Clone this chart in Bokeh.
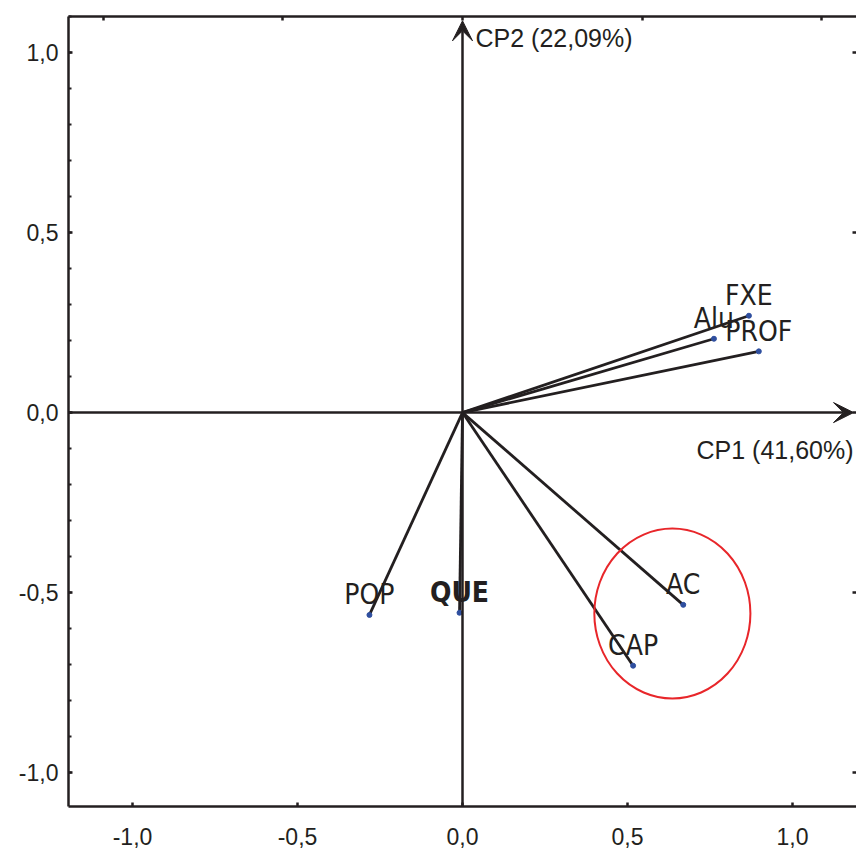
from bokeh.plotting import figure
from bokeh.models import (Range1d, LinearAxis, FixedTicker, Arrow, VeeHead, Label,
                          ColumnDataSource)
from bokeh.core.properties import value
from bokeh.embed import file_html
from bokeh.resources import INLINE

# ---- data ----
variables = ["FXE", "Alu", "PROF", "AC", "CAP", "POP", "QUE"]
cp1_loadings = [0.868, 0.762, 0.898, 0.669, 0.517, -0.282, -0.009]
cp2_loadings = [0.269, 0.205, 0.170, -0.534, -0.703, -0.562, -0.556]
label_styles = ["normal", "normal", "normal", "normal", "normal", "normal", "bold"]

axis_ticks = [-1.0, -0.5, 0.0, 0.5, 1.0]
axis_tick_labels = ["-1,0", "-0,5", "0,0", "0,5", "1,0"]
y_minor_ticks = [round(-1.0 + 0.1 * i, 1) for i in range(22)]

cp1_title = "CP1 (41,60%)"
cp2_title = "CP2 (22,09%)"

# highlighted group (red ellipse)
ellipse_center = (0.636, -0.558)
ellipse_size = (0.473, 0.472)

x_min, x_max = -1.194, 1.194
y_min, y_max = -1.094, 1.100

INK = "#231f20"

p = figure(width=856, height=850,
           x_range=Range1d(x_min, x_max), y_range=Range1d(y_min, y_max),
           output_backend="svg", toolbar_location=None,
           x_axis_location=None, y_axis_location=None,
           min_border_left=68, min_border_right=0,
           min_border_top=16, min_border_bottom=44)
p.outline_line_color = None
p.background_fill_color = "white"
p.border_fill_color = "white"
p.grid.visible = False
p.extra_x_ranges = {"top": Range1d(-1.096, 1.096)}

overrides = {t: l for t, l in zip(axis_ticks, axis_tick_labels)}


def style_axis(ax, labels=True):
    ax.axis_line_width = 2.5
    ax.axis_line_color = INK
    ax.major_tick_in = 4
    ax.major_tick_out = 0
    ax.major_tick_line_width = 2.5
    ax.major_tick_line_color = INK
    ax.minor_tick_in = 3
    ax.minor_tick_out = 0
    ax.minor_tick_line_width = 2
    ax.minor_tick_line_color = INK
    if labels:
        ax.major_label_overrides = overrides
        ax.major_label_text_font = "Liberation Sans"
        ax.major_label_text_font_size = "23px"
        ax.major_label_text_color = INK
    else:
        ax.major_label_text_color = None
        ax.major_label_text_font_size = "1px"
        ax.major_label_standoff = 0


left = LinearAxis(ticker=FixedTicker(ticks=axis_ticks, minor_ticks=y_minor_ticks))
style_axis(left)
left.major_label_standoff = 10
p.add_layout(left, "left")

bottom = LinearAxis(ticker=FixedTicker(ticks=axis_ticks, minor_ticks=[]))
style_axis(bottom)
bottom.major_label_standoff = 21
p.add_layout(bottom, "below")

top = LinearAxis(x_range_name="top", ticker=FixedTicker(ticks=axis_ticks, minor_ticks=[]))
style_axis(top, labels=False)
p.add_layout(top, "above")

right = LinearAxis(ticker=FixedTicker(ticks=axis_ticks, minor_ticks=[]))
style_axis(right, labels=False)
right.axis_line_color = None
p.add_layout(right, "right")

# axes through origin with arrow heads
p.add_layout(Arrow(end=VeeHead(size=20, fill_color=INK, line_color=INK, line_width=1),
                   x_start=x_min, y_start=0, x_end=1.185, y_end=0,
                   line_width=2.5, line_color=INK))
p.add_layout(Arrow(end=VeeHead(size=20, fill_color=INK, line_color=INK, line_width=1),
                   x_start=0, y_start=y_min, x_end=0, y_end=1.088,
                   line_width=2.5, line_color=INK))

src = ColumnDataSource(dict(x=cp1_loadings, y=cp2_loadings, name=variables,
                            style=label_styles))

p.segment(x0=0, y0=0, x1="x", y1="y", source=src, line_width=2.8, line_color=INK)
p.scatter("x", "y", source=src, size=5, fill_color="#2f4f9f", line_color="#2f4f9f")
p.text("x", "y", text="name", source=src, text_align="center",
       text_baseline="alphabetic", y_offset=-20,
       text_font=value("'DejaVu Sans Condensed', Roboto, sans-serif"),
       text_font_size="28px",
       text_font_style="style", text_color=INK)

p.ellipse(x=[ellipse_center[0]], y=[ellipse_center[1]],
          width=[ellipse_size[0]], height=[ellipse_size[1]],
          fill_color=None, line_color="#e8262a", line_width=2)

p.add_layout(Label(x=0, y=y_max, x_offset=13, y_offset=-21, text=cp2_title,
                   text_font="Liberation Sans", text_font_size="25px",
                   text_color=INK, text_baseline="middle", text_align="left"))
p.add_layout(Label(x=x_max, y=0, x_offset=-3, y_offset=-37, text=cp1_title,
                   text_font="Liberation Sans", text_font_size="25px",
                   text_color=INK, text_baseline="middle", text_align="right"))

open("out.html", "w").write(file_html(p, INLINE))
